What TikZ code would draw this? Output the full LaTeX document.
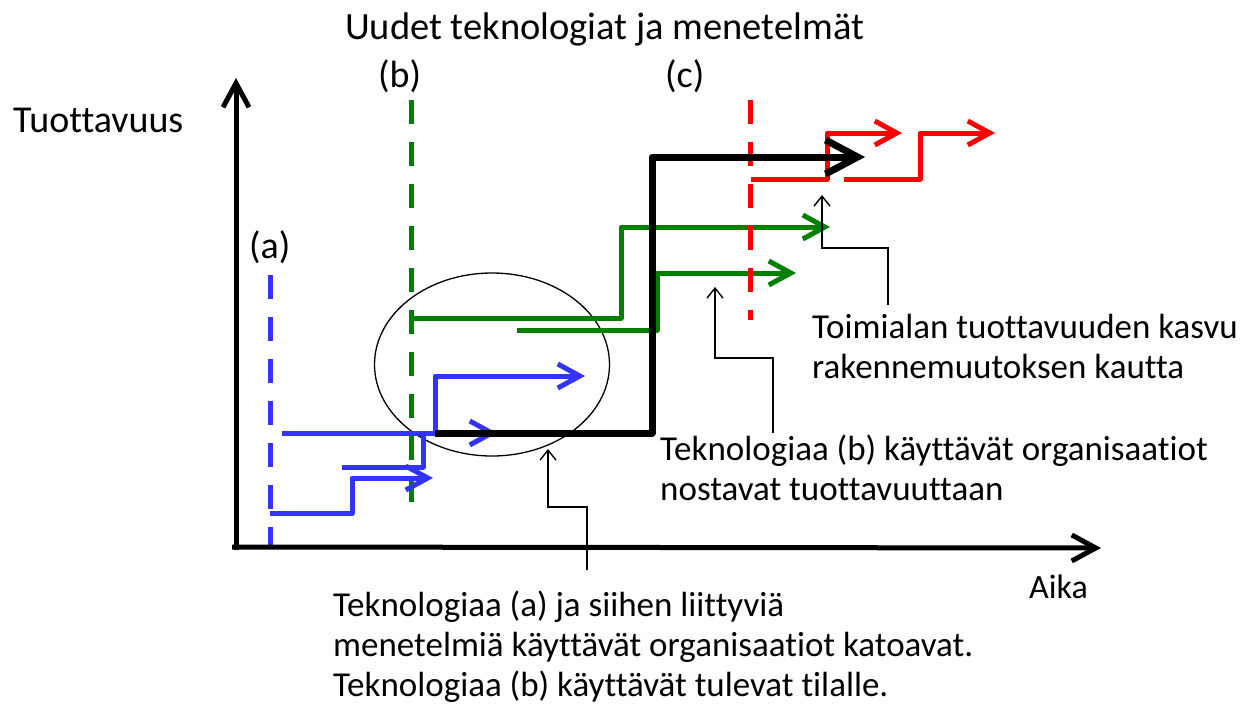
\documentclass[tikz,border=0pt]{standalone}
\usepackage{fontspec}
\setmainfont[Ligatures=NoCommon]{Carlito}
\usetikzlibrary{arrows.meta}
\definecolor{techA}{RGB}{51,51,255}
\definecolor{techB}{RGB}{0,128,0}
\definecolor{techC}{RGB}{255,0,0}
\tikzset{
  axis/.style={line width=5pt,-{Straight Barb[length=24pt,width=26pt]}},
  era/.style={line width=5pt,dash pattern=on 24pt off 18pt},
  path/.style={line width=5pt,line join=round,-{Straight Barb[length=22pt,width=24pt]}},
  industry/.style={line width=7pt,line join=round,-{Straight Barb[length=32pt,width=34pt]}},
  callout/.style={line width=1.4pt,-{Straight Barb[length=10pt,width=16pt]}},
  lbl/.style={inner sep=0pt,anchor=base west,font=\fontsize{38}{44}\selectfont},
  note/.style={inner sep=0pt,anchor=base west,align=left,font=\fontsize{35}{40}\selectfont},
}
\begin{document}
\begin{tikzpicture}[x=1pt,y=-1pt]
\useasboundingbox (0,0) rectangle (1246,706);

% technology generation markers
\draw[era,techB] (411,100) -- (411,508);
\draw[era,techA] (270,275) -- (270,547);

% region where the old technology is replaced
\draw[line width=1.3pt] (492,364.5) ellipse [x radius=117.5pt, y radius=91.5pt];

% organisations using technology (a)
\draw[path,techA] (270,513) -- (352,513) -- (352,478) -- (433,478);
\draw[path,techA] (282,433) -- (497,433);
\draw[line width=5pt,techA,line join=round] (342,467) -- (423,467) -- (423,433);
\draw[path,techA] (435,433) -- (435,376) -- (585,376);

% organisations using technology (b)
\draw[path,techB] (411,318) -- (621,318) -- (621,227) -- (830,227);
\draw[path,techB] (517,330) -- (657,330) -- (657,273) -- (796,273);

% technology (c)
\draw[era,techC] (750,100) -- (750,320);
\draw[path,techC] (751,179) -- (827,179) -- (827,133) -- (902,133);
\draw[path,techC] (844,179) -- (920,179) -- (920,133) -- (995,133);

% industry-level productivity
\draw[industry] (435,433) -- (652,433) -- (652,157) -- (865,157);

% axes
\coordinate (origin) at (232,547);
\coordinate (ytip) at (236,78);
\coordinate (xtip) at (1101,548);
\draw[axis] (236,549.5) -- (ytip);
\draw[axis] (origin) -- (xtip);

% texts
\node[lbl,font=\fontsize{38.5}{44}\selectfont] (title) at (345,40) {Uudet teknologiat ja menetelmät};
\node[lbl] (lb) at (378,88) {(b)};
\node[lbl] (lc) at (665,88) {(c)};
\node[lbl] (la) at (249,258) {(a)};
\node[lbl] (ylab) at (13,132) {Tuottavuus};
\node[lbl,font=\fontsize{34}{40}\selectfont] (xlab) at (1029,598) {Aika};

% multi-line notes are placed by the baseline of their last line
\node[note] (noteA) at (333,696) {Teknologiaa (a) ja siihen liittyviä\\menetelmiä käyttävät organisaatiot katoavat.\\Teknologiaa (b) käyttävät tulevat tilalle.};
\node[note] (noteB) at (660,500) {Teknologiaa (b) käyttävät organisaatiot\\nostavat tuottavuuttaan};
\node[note] (noteC) at (812,378) {Toimialan tuottavuuden kasvu\\rakennemuutoksen kautta};

% callouts
\coordinate (fromA) at (587,570);
\coordinate (toA) at (548,449);
\coordinate (fromB) at (773,433);
\coordinate (toB) at (715,287);
\coordinate (fromC) at (888,305);
\coordinate (toC) at (822,195);
\draw[callout] (fromA) -- (587,507) -| (toA);
\draw[callout] (fromB) -- (773,358) -| (toB);
\draw[callout] (fromC) -- (888,248) -| (toC);
\end{tikzpicture}
\end{document}
